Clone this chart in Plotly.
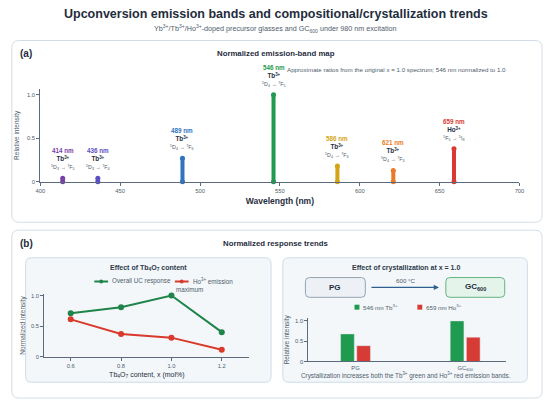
import plotly.graph_objects as go

W, H = 550, 404

# ---- data ----
peak_nm = [414, 436, 489, 546, 586, 621, 659]
peak_val = [0.04, 0.04, 0.27, 1.0, 0.18, 0.13, 0.38]
peak_ion = ["Tb", "Tb", "Tb", "Tb", "Tb", "Tb", "Ho"]
peak_trans = [
    "<sup>5</sup>D<sub>3</sub> → <sup>7</sup>F<sub>5</sub>",
    "<sup>5</sup>D<sub>3</sub> → <sup>7</sup>F<sub>4</sub>",
    "<sup>5</sup>D<sub>4</sub> → <sup>7</sup>F<sub>6</sub>",
    "<sup>5</sup>D<sub>4</sub> → <sup>7</sup>F<sub>5</sub>",
    "<sup>5</sup>D<sub>4</sub> → <sup>7</sup>F<sub>4</sub>",
    "<sup>5</sup>D<sub>4</sub> → <sup>7</sup>F<sub>3</sub>",
    "<sup>5</sup>F<sub>5</sub> → <sup>5</sup>I<sub>8</sub>",
]
peak_colors = ["#7b3fa8", "#5a4fc4", "#2f74c0", "#1f9a4f", "#d4a514", "#ea7a25", "#d83a33"]

tb_content = [0.6, 0.8, 1.0, 1.2]
uc_response = [0.71, 0.81, 1.0, 0.40]
ho_emission = [0.61, 0.37, 0.31, 0.11]
trend_names = ["Overall UC response", "Ho<sup>3+</sup> emission maximum"]
trend_colors = ["#1e8449", "#d93a2b"]

samples = ["PG", "GC<sub>600</sub>"]
tb_546 = [0.68, 1.0]
ho_659 = [0.39, 0.60]
bar_names = ["546 nm Tb<sup>3+</sup>", "659 nm Ho<sup>3+</sup>"]
bar_colors = ["#1f9a4f", "#d63c35"]

y_ticks = [0, 0.5, 1.0]
y_ticktext = ["0", "0.5", "1.0"]
wl_ticks = [400, 450, 500, 550, 600, 650, 700]
x_ticks_b = [0.6, 0.8, 1.0, 1.2]
x_ticktext_b = ["0.6", "0.8", "1.0", "1.2"]

FONT = "Liberation Sans, Arial"
DARK = "#1f2d3d"
GRAY = "#4f5d6c"
AXIS = "#5b6b7c"


def px(x):
    return x / W


def py(y):
    return 1 - y / H


def rounded_box(x0, y0, x1, y1, r=6):
    rx, ry = r / W, r / H
    a, b, c, d = px(x0), py(y1), px(x1), py(y0)
    path = (f"M{a+rx},{b} L{c-rx},{b} Q{c},{b} {c},{b+ry} L{c},{d-ry} Q{c},{d} {c-rx},{d} "
            f"L{a+rx},{d} Q{a},{d} {a},{d-ry} L{a},{b+ry} Q{a},{b} {a+rx},{b} Z")
    return path


fig = go.Figure()

# Panel (a): emission peaks
for nm, v, col in zip(peak_nm, peak_val, peak_colors):
    fig.add_trace(go.Scatter(
        x=[nm, nm], y=[0, v], mode="lines+markers",
        line=dict(color=col, width=4), marker=dict(color=col, size=5),
        cliponaxis=False, showlegend=False, xaxis="x", yaxis="y",
    ))

# Panel (b) left: composition trends
for ys, name, col in zip([uc_response, ho_emission], trend_names, trend_colors):
    fig.add_trace(go.Scatter(
        x=tb_content, y=ys, mode="lines+markers", name=name,
        line=dict(color=col, width=2), marker=dict(color=col, size=6),
        cliponaxis=False, showlegend=False, xaxis="x2", yaxis="y2",
    ))

# Panel (b) right: crystallization bars
for ys, name, col in zip([tb_546, ho_659], bar_names, bar_colors):
    fig.add_trace(go.Bar(
        x=samples, y=ys, name=name, marker_color=col, showlegend=False,
        xaxis="x3", yaxis="y3",
    ))

# Shapes: panels, cards, boxes
shapes = [
    dict(type="path", path=rounded_box(7, 39, 547, 223, 7), xref="paper", yref="paper",
         line=dict(color="#d3dde7", width=1), fillcolor="#ffffff", layer="below"),
    dict(type="path", path=rounded_box(7, 231, 547, 401, 7), xref="paper", yref="paper",
         line=dict(color="#d3dde7", width=1), fillcolor="#ffffff", layer="below"),
    dict(type="path", path=rounded_box(21, 259, 271, 385, 6), xref="paper", yref="paper",
         line=dict(color="#cfdbe6", width=1), fillcolor="#f3f7fa", layer="below"),
    dict(type="path", path=rounded_box(283, 259, 532, 385, 6), xref="paper", yref="paper",
         line=dict(color="#cfdbe6", width=1), fillcolor="#f3f7fa", layer="below"),
    dict(type="path", path=rounded_box(306, 279, 367, 299, 4), xref="paper", yref="paper",
         line=dict(color="#95a3b2", width=1), fillcolor="#edf1f5", layer="below"),
    dict(type="path", path=rounded_box(449, 279, 509, 299, 4), xref="paper", yref="paper",
         line=dict(color="#63b483", width=1), fillcolor="#e4f4eb", layer="below"),
]

ann = []


def text(x, y, s, size, color=DARK, bold=False, xanchor="center"):
    ann.append(dict(x=px(x), y=py(y), xref="paper", yref="paper", text=f"<b>{s}</b>" if bold else s,
                    showarrow=False, xanchor=xanchor, yanchor="middle", borderpad=0,
                    font=dict(family=FONT, size=size, color=color)))


text(276, 12, "Upconversion emission bands and compositional/crystallization trends", 12.5, DARK, True)
text(276, 27, "Yb<sup>3+</sup>/Tb<sup>3+</sup>/Ho<sup>3+</sup>-doped precursor glasses and GC<sub>600</sub> under 980 nm excitation", 7.2, GRAY)
text(14, 52, "(a)", 10, DARK, True, "left")
text(276, 52, "Normalized emission-band map", 7.8, DARK, True)
text(286, 68, "Approximate ratios from the original x = 1.0 spectrum; 546 nm normalized to 1.0", 6.2, GRAY, False, "left")
text(14, 245, "(b)", 10, DARK, True, "left")
text(276, 245, "Normalized response trends", 7.8, DARK, True)
text(146, 269, "Effect of Tb<sub>4</sub>O<sub>7</sub> content", 7, "#2d3a4a", True)
text(408, 269, "Effect of crystallization at x = 1.0", 7, "#2d3a4a", True)
text(336, 289, "PG", 8, DARK, True)
text(479, 289, "GC<sub>600</sub>", 8, DARK, True)
text(408, 282, "600 °C", 6.2, GRAY)
text(408, 378, "Crystallization increases both the Tb<sup>3+</sup> green and Ho<sup>3+</sup> red emission bands.", 6.3, GRAY)

# arrow PG -> GC
ann.append(dict(x=px(442), y=py(289), ax=-69, ay=0, xref="paper", yref="paper",
                axref="pixel", ayref="pixel", showarrow=True, arrowhead=2, arrowsize=0.8,
                arrowwidth=1.3, arrowcolor="#2f5f8f", text=""))

# legend for composition trends (drawn inline)
leg_pos = [(91, 283), (173, 283)]
for (lx, ly), name, col in zip(leg_pos, trend_names, trend_colors):
    shapes.append(dict(type="line", x0=px(lx), x1=px(lx + 14), y0=py(ly), y1=py(ly),
                       xref="paper", yref="paper", line=dict(color=col, width=2)))
    shapes.append(dict(type="circle", x0=px(lx + 5), x1=px(lx + 9), y0=py(ly + 2), y1=py(ly - 2),
                       xref="paper", yref="paper", line=dict(color=col, width=0), fillcolor=col))
    first, _, rest = name.rpartition(" ") if "emission" in name else (name, "", "")
    text(lx + 17, ly, first, 6.3, GRAY, False, "left")
    if rest:
        text(lx, ly + 8, rest, 6.3, GRAY, False, "left")

# legend for bars
bleg_pos = [(356, 309), (420, 309)]
for (lx, ly), name, col in zip(bleg_pos, bar_names, bar_colors):
    shapes.append(dict(type="rect", x0=px(lx), x1=px(lx + 5), y0=py(ly + 2.5), y1=py(ly - 2.5),
                       xref="paper", yref="paper", line=dict(width=0), fillcolor=col))
    text(lx + 8, ly, name, 6.2, GRAY, False, "left")

# peak labels
for nm, v, ion, tr, col in zip(peak_nm, peak_val, peak_ion, peak_trans, peak_colors):
    ann.append(dict(
        x=nm, y=v, xref="x", yref="y", showarrow=False, yanchor="bottom", yshift=5,
        text=(f"<b><span style='color:{col}'>{nm} nm</span></b><br>"
              f"<b>{ion}<sup>3+</sup></b><br>"
              f"<span style='font-size:5.3px;color:{GRAY}'>{tr}</span>"),
        font=dict(family=FONT, size=6.3, color=DARK),
    ))

axis_common = dict(showline=True, linecolor=AXIS, linewidth=1.2, ticks="outside", ticklen=3,
                   tickcolor=AXIS, showgrid=False, zeroline=False,
                   tickfont=dict(family=FONT, size=5.8, color=GRAY))

fig.update_layout(
    width=W, height=H, autosize=False,
    margin=dict(l=0, r=0, t=0, b=0),
    paper_bgcolor="white", plot_bgcolor="rgba(0,0,0,0)",
    font=dict(family=FONT),
    shapes=shapes, annotations=ann, showlegend=False,
    barmode="group", bargap=0.705, bargroupgap=0.15,
    xaxis=dict(domain=[px(36), px(524)], range=[400, 700], tickvals=wl_ticks, anchor="y",
               title=dict(text="<b>Wavelength (nm)</b>", font=dict(family=FONT, size=8.5, color=DARK), standoff=5),
               **axis_common),
    yaxis=dict(domain=[py(182), py(88)], range=[0, 1.068], tickvals=y_ticks, ticktext=y_ticktext, anchor="x",
               title=dict(text="Relative intensity", font=dict(family=FONT, size=6.5, color=GRAY), standoff=6),
               **axis_common),
    xaxis2=dict(domain=[px(40), px(249)], range=[0.495, 1.31], tickvals=x_ticks_b, ticktext=x_ticktext_b, anchor="y2",
                title=dict(text="Tb<sub>4</sub>O<sub>7</sub> content, x (mol%)", font=dict(family=FONT, size=7, color=DARK), standoff=4),
                **axis_common),
    yaxis2=dict(domain=[py(359), py(296)], range=[0, 1.02], tickvals=y_ticks, ticktext=y_ticktext, anchor="x2",
                title=dict(text="Normalized intensity", font=dict(family=FONT, size=6.5, color=GRAY), standoff=4),
                **axis_common),
    xaxis3=dict(domain=[px(309), px(510)], range=[-0.43, 1.37], anchor="y3",
                **{**axis_common, "ticks": "", "ticklen": 0}),
    yaxis3=dict(domain=[py(364), py(320)], range=[0, 1.07], tickvals=y_ticks, ticktext=y_ticktext, anchor="x3",
                title=dict(text="Relative intensity", font=dict(family=FONT, size=6.5, color=GRAY), standoff=4),
                **axis_common),
)

fig.write_html("out.html", config={"displayModeBar": False},
               post_script="document.body.style.margin='0px';")
